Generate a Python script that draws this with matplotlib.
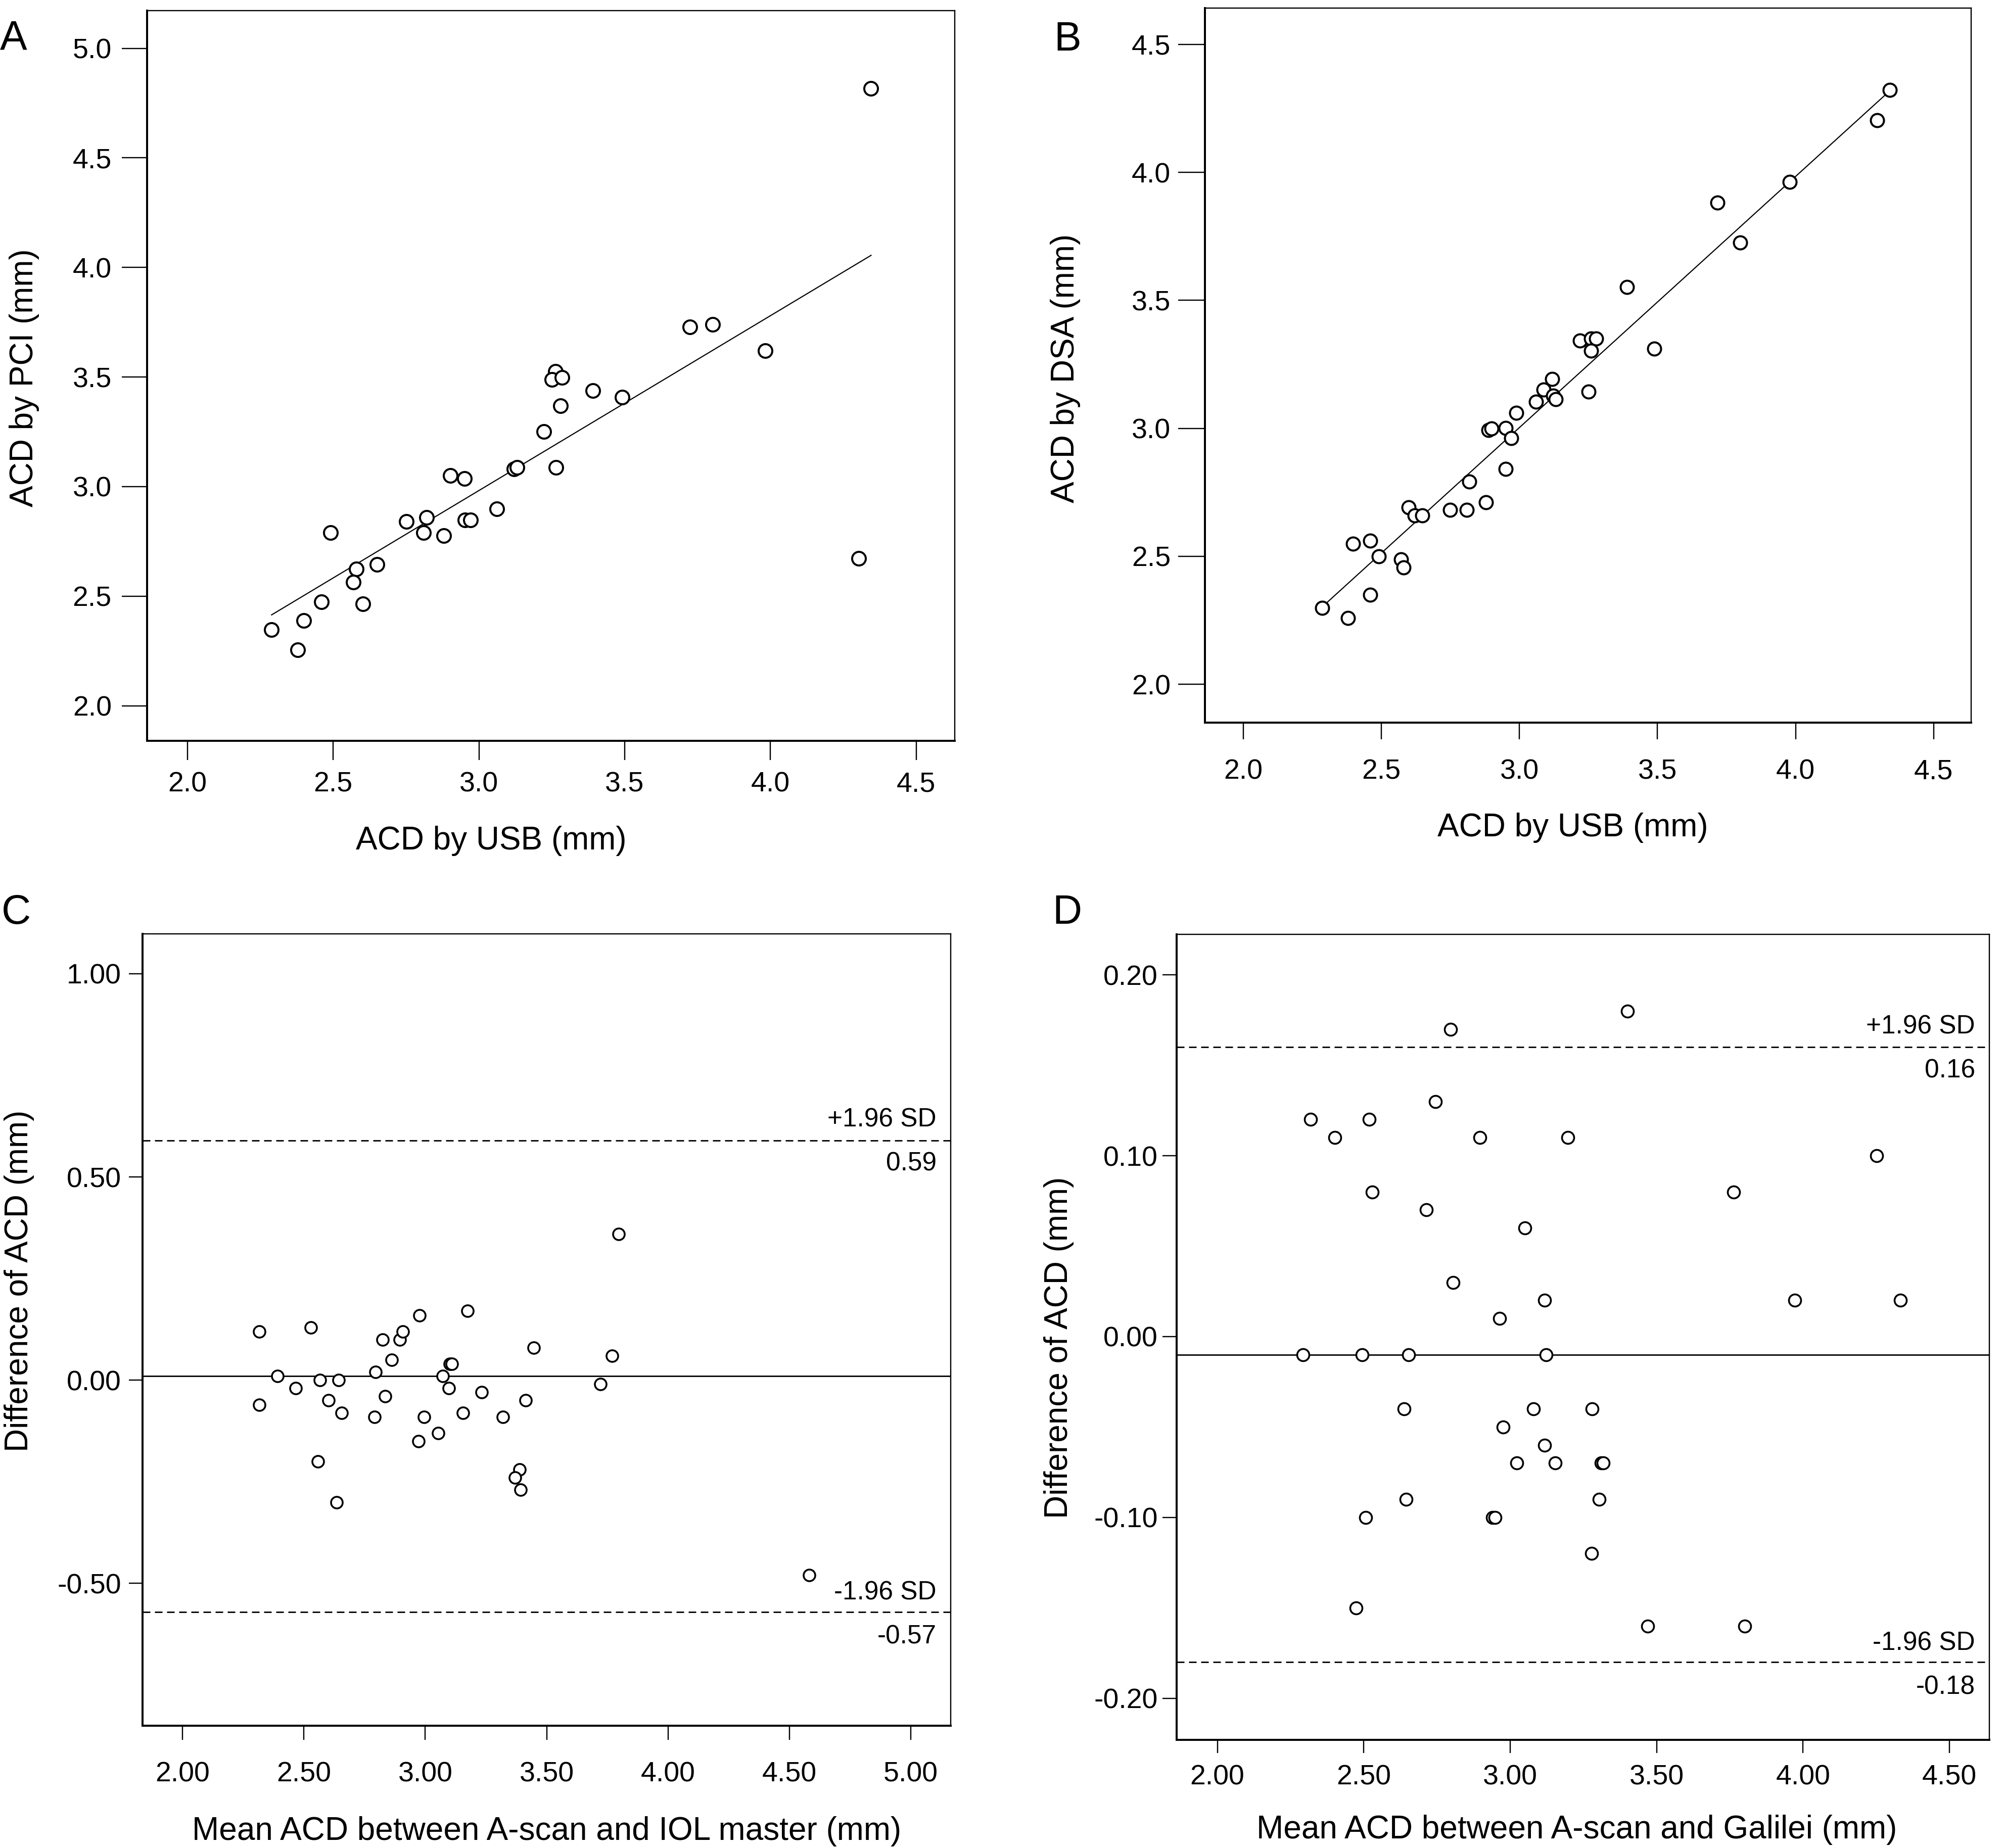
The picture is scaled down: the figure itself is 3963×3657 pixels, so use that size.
import matplotlib
matplotlib.use("Agg")
import matplotlib.pyplot as plt

plt.rcParams['font.family'] = ['Liberation Sans', 'DejaVu Sans']

# ---------------- data ----------------
# Panel A: ACD by USB vs ACD by PCI
a_usb = [2.289, 2.378, 2.400, 2.460, 2.491, 2.580, 2.569, 2.602, 2.651, 2.751,
         2.811, 2.820, 2.880, 2.902, 2.951, 2.953, 2.971, 3.062, 3.120, 3.131,
         3.222, 3.262, 3.251, 3.285, 3.280, 3.264, 3.391, 3.491, 3.724, 3.802,
         3.982, 4.302, 4.345]
a_pci = [2.348, 2.255, 2.389, 2.475, 2.790, 2.625, 2.563, 2.464, 2.645, 2.841,
         2.790, 2.860, 2.777, 3.050, 3.037, 2.847, 2.847, 2.898, 3.081, 3.087,
         3.252, 3.525, 3.488, 3.497, 3.369, 3.087, 3.439, 3.409, 3.728, 3.739,
         3.620, 2.673, 4.817]
a_fit = [0.588, 0.798]          # intercept, slope

# Panel B: ACD by USB vs ACD by DSA
b_usb = [2.286, 2.379, 2.460, 2.397, 2.460, 2.490, 2.572, 2.581, 2.598, 2.621,
         2.649, 2.749, 2.810, 2.818, 2.878, 2.888, 2.899, 2.950, 2.950, 2.971,
         2.988, 3.060, 3.088, 3.118, 3.122, 3.132, 3.251, 3.219, 3.260, 3.277,
         3.260, 3.389, 3.489, 3.718, 3.800, 3.978, 4.296, 4.341]
b_dsa = [2.298, 2.258, 2.349, 2.549, 2.560, 2.500, 2.488, 2.456, 2.692, 2.660,
         2.660, 2.681, 2.681, 2.792, 2.711, 2.994, 2.999, 3.001, 2.841, 2.962,
         3.061, 3.103, 3.152, 3.192, 3.127, 3.114, 3.143, 3.342, 3.350, 3.350,
         3.303, 3.552, 3.312, 3.882, 3.725, 3.963, 4.204, 4.323]
b_fit = [0.060, 0.981]

# Panel C: Bland-Altman A-scan vs IOL master
c_mean = [2.317, 2.317, 2.391, 2.465, 2.529, 2.566, 2.557, 2.601, 2.642, 2.655,
          2.634, 2.795, 2.791, 2.824, 2.861, 2.835, 2.896, 2.907, 2.977, 2.994,
          2.973, 3.054, 3.071, 3.102, 3.110, 3.097, 3.156, 3.174, 3.233, 3.320,
          3.414, 3.447, 3.388, 3.369, 3.392, 3.722, 3.769, 3.797, 4.582]
c_diff = [0.12, -0.06, 0.01, -0.02, 0.13, 0.00, -0.20, -0.05, 0.00, -0.08,
          -0.30, 0.02, -0.09, 0.10, 0.05, -0.04, 0.10, 0.12, 0.16, -0.09,
          -0.15, -0.13, 0.01, 0.04, 0.04, -0.02, -0.08, 0.17, -0.03, -0.09,
          -0.05, 0.08, -0.22, -0.24, -0.27, -0.01, 0.06, 0.36, -0.48]
c_lines = [0.59, 0.01, -0.57]    # upper LoA, mean, lower LoA
c_line_labels = ['0.59', '-0.57']

# Panel D: Bland-Altman A-scan vs Galilei
d_mean = [2.318, 2.402, 2.519, 2.529, 2.744, 2.796, 2.896, 3.196, 2.713, 3.050,
          2.805, 3.117, 2.964, 3.401, 3.763, 4.251, 3.971, 4.332, 2.293, 2.494,
          2.653, 3.123, 2.638, 3.079, 3.280, 2.975, 3.117, 3.022, 3.154, 3.311,
          3.317, 2.644, 3.304, 2.507, 2.940, 2.949, 3.278, 2.474, 3.469, 3.801]
d_diff = [0.12, 0.11, 0.12, 0.08, 0.13, 0.17, 0.11, 0.11, 0.07, 0.06,
          0.03, 0.02, 0.01, 0.18, 0.08, 0.10, 0.02, 0.02, -0.01, -0.01,
          -0.01, -0.01, -0.04, -0.04, -0.04, -0.05, -0.06, -0.07, -0.07, -0.07,
          -0.07, -0.09, -0.09, -0.10, -0.10, -0.10, -0.12, -0.15, -0.16, -0.16]
d_lines = [0.16, -0.01, -0.18]
d_line_labels = ['0.16', '-0.18']

ab_xticks = [2.0, 2.5, 3.0, 3.5, 4.0, 4.5]
ab_xticklabels = ['2.0', '2.5', '3.0', '3.5', '4.0', '4.5']
a_yticks = [2.0, 2.5, 3.0, 3.5, 4.0, 4.5, 5.0]
a_yticklabels = ['2.0', '2.5', '3.0', '3.5', '4.0', '4.5', '5.0']
b_yticks = [2.0, 2.5, 3.0, 3.5, 4.0, 4.5]
b_yticklabels = ['2.0', '2.5', '3.0', '3.5', '4.0', '4.5']
c_xticks = [2.0, 2.5, 3.0, 3.5, 4.0, 4.5, 5.0]
c_xticklabels = ['2.00', '2.50', '3.00', '3.50', '4.00', '4.50', '5.00']
c_yticks = [-0.5, 0.0, 0.5, 1.0]
c_yticklabels = ['-0.50', '0.00', '0.50', '1.00']
d_xticks = [2.0, 2.5, 3.0, 3.5, 4.0, 4.5]
d_xticklabels = ['2.00', '2.50', '3.00', '3.50', '4.00', '4.50']
d_yticks = [-0.2, -0.1, 0.0, 0.1, 0.2]
d_yticklabels = ['-0.20', '-0.10', '0.00', '0.10', '0.20']

# ---------------- figure ----------------
W, H, DPI = 3963, 3657, 100
PX = 72.0 / DPI   # points per pixel

fig = plt.figure(figsize=(W / DPI, H / DPI), dpi=DPI)
fig.patch.set_facecolor('white')


def make_axes(l, r, t, b):
    return fig.add_axes([l / W, 1 - b / H, (r - l) / W, (b - t) / H])


def style(ax, xlen, ylen, xpad, ypad):
    for s in ['left', 'bottom']:
        ax.spines[s].set_linewidth(4.0 * PX)
    for s in ['top', 'right']:
        ax.spines[s].set_linewidth(2.4 * PX)
    ax.tick_params(axis='x', direction='out', length=xlen * PX, width=2.4 * PX,
                   pad=xpad * PX, labelsize=TICK_FS)
    ax.tick_params(axis='y', direction='out', length=ylen * PX, width=2.4 * PX,
                   pad=ypad * PX, labelsize=TICK_FS)


TICK_FS = 40
LABEL_FS = 46
SD_FS = 37

# ---- Panel A ----
L, R, T, B = 291, 1889, 21, 1466
axA = make_axes(L, R, T, B)
axA.plot([min(a_usb), max(a_usb)],
         [a_fit[0] + a_fit[1] * min(a_usb), a_fit[0] + a_fit[1] * max(a_usb)],
         color='black', lw=2.2 * PX, zorder=2)
axA.plot(a_usb, a_pci, ls='none', marker='o', ms=27 * PX, mfc='white',
         mec='black', mew=4.0 * PX, zorder=3)
axA.set_xlim(1.862, 4.632)
axA.set_ylim(1.84, 5.172)
axA.set_xticks(ab_xticks, ab_xticklabels)
axA.set_yticks(a_yticks, a_yticklabels)
style(axA, 38, 50, 22, 20)
axA.set_xlabel('ACD by USB (mm)', fontsize=LABEL_FS)
axA.xaxis.set_label_coords((972 - L) / (R - L), -(1694 - B) / (B - T))
axA.xaxis.label.set_va('bottom')
axA.set_ylabel('ACD by PCI (mm)', fontsize=LABEL_FS)
axA.yaxis.set_label_coords((78 - L) / (R - L), 0.497)

# ---- Panel B ----
L, R, T, B = 2384, 3900, 16, 1430
axB = make_axes(L, R, T, B)
axB.plot([min(b_usb), max(b_usb)],
         [b_fit[0] + b_fit[1] * min(b_usb), b_fit[0] + b_fit[1] * max(b_usb)],
         color='black', lw=2.2 * PX, zorder=2)
axB.plot(b_usb, b_dsa, ls='none', marker='o', ms=26 * PX, mfc='white',
         mec='black', mew=4.0 * PX, zorder=3)
axB.set_xlim(1.861, 4.636)
axB.set_ylim(1.85, 4.642)
axB.set_xticks(ab_xticks, ab_xticklabels)
axB.set_yticks(b_yticks, b_yticklabels)
style(axB, 33, 53, 39, 15)
axB.set_xlabel('ACD by USB (mm)', fontsize=LABEL_FS)
axB.xaxis.set_label_coords((3112 - L) / (R - L), -(1668 - B) / (B - T))
axB.xaxis.label.set_va('bottom')
axB.set_ylabel('ACD by DSA (mm)', fontsize=LABEL_FS)
axB.yaxis.set_label_coords((2138 - L) / (R - L), 0.496)


def bland_altman(ax, xs, ys, lines, labels, ms):
    up, mid, lo = lines
    ax.axhline(mid, color='black', lw=2.8 * PX, zorder=2)
    for v in (up, lo):
        ax.axhline(v, color='black', lw=2.8 * PX, zorder=2,
                   dashes=(15 / 2.8, 9 / 2.8))
    ax.plot(xs, ys, ls='none', marker='o', ms=ms * PX, mfc='white',
            mec='black', mew=3.6 * PX, zorder=3)
    trans = ('axes fraction', 'data')
    ax.annotate('+1.96 SD', xy=(1, up), xycoords=trans, xytext=(-28 * PX, 27 * PX),
                textcoords='offset points', ha='right', va='baseline', fontsize=SD_FS)
    ax.annotate(labels[0], xy=(1, up), xycoords=trans, xytext=(-28 * PX, -22 * PX),
                textcoords='offset points', ha='right', va='top', fontsize=SD_FS)
    ax.annotate('-1.96 SD', xy=(1, lo), xycoords=trans, xytext=(-28 * PX, 24 * PX),
                textcoords='offset points', ha='right', va='baseline', fontsize=SD_FS)
    ax.annotate(labels[1], xy=(1, lo), xycoords=trans, xytext=(-28 * PX, -25 * PX),
                textcoords='offset points', ha='right', va='top', fontsize=SD_FS)


# ---- Panel C ----
L, R, T, B = 282, 1881, 1848, 3415
axC = make_axes(L, R, T, B)
bland_altman(axC, c_mean, c_diff, c_lines, c_line_labels, 23)
axC.set_xlim(1.835, 5.165)
axC.set_ylim(-0.85, 1.098)
axC.set_xticks(c_xticks, c_xticklabels)
axC.set_yticks(c_yticks, c_yticklabels)
style(axC, 28, 27, 42, 15)
axC.set_xlabel('Mean ACD between A-scan and IOL master (mm)', fontsize=LABEL_FS)
axC.xaxis.set_label_coords(0.5, -(3654 - B) / (B - T))
axC.xaxis.label.set_va('bottom')
axC.set_ylabel('Difference of ACD (mm)', fontsize=LABEL_FS)
axC.yaxis.set_label_coords((68 - L) / (R - L), 0.562)

# ---- Panel D ----
L, R, T, B = 2328, 3936, 1849, 3443
axD = make_axes(L, R, T, B)
bland_altman(axD, d_mean, d_diff, d_lines, d_line_labels, 24)
axD.set_xlim(1.861, 4.636)
axD.set_ylim(-0.223, 0.2224)
axD.set_xticks(d_xticks, d_xticklabels)
axD.set_yticks(d_yticks, d_yticklabels)
style(axD, 26, 28, 22, 9)
axD.set_xlabel('Mean ACD between A-scan and Galilei (mm)', fontsize=LABEL_FS)
axD.xaxis.set_label_coords((3120 - L) / (R - L), -(3651 - B) / (B - T))
axD.xaxis.label.set_va('bottom')
axD.set_ylabel('Difference of ACD (mm)', fontsize=LABEL_FS)
axD.yaxis.set_label_coords((2125 - L) / (R - L), 0.487)

# ---- panel letters ----
LET_FS = 58
fig.text(0 / W, 1 - 98 / H, 'A', fontsize=LET_FS, ha='left', va='baseline')
fig.text(2085 / W, 1 - 100 / H, 'B', fontsize=LET_FS, ha='left', va='baseline')
fig.text(3 / W, 1 - 1828 / H, 'C', fontsize=LET_FS, ha='left', va='baseline')
fig.text(2082 / W, 1 - 1828 / H, 'D', fontsize=LET_FS, ha='left', va='baseline')

fig.savefig('out.png', dpi=DPI, facecolor='white')
